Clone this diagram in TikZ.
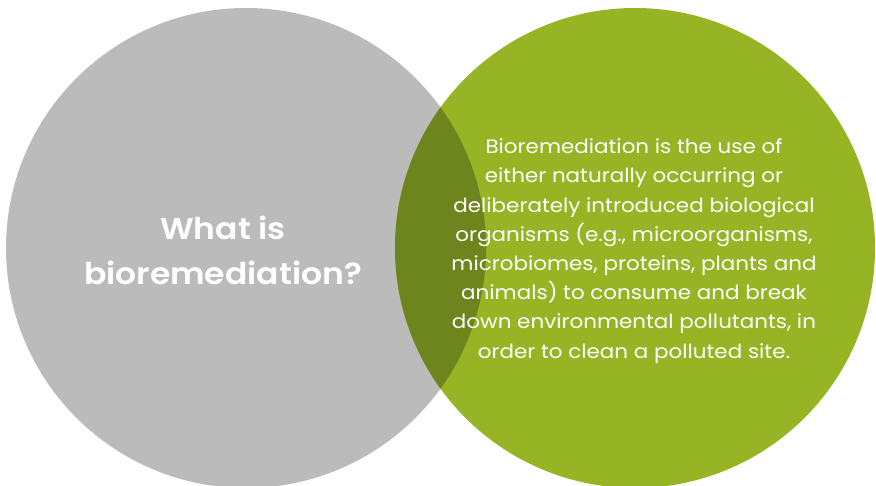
\documentclass[tikz,border=0pt]{standalone}
\usepackage{fontspec}
\setmainfont{Poppins}[FakeStretch=1.1, BoldFont={Poppins SemiBold}]
\usetikzlibrary{positioning}
\definecolor{LGray}{HTML}{BBBBBB}
\definecolor{LGreen}{HTML}{96B424}
\definecolor{DGreen}{HTML}{6E841D}
\tikzset{
    whitetext/.style={text=white, align=center, inner sep=0pt}
}

\begin{document}
\begin{tikzpicture}[x=1pt, y=-1pt]
\useasboundingbox (0,0) rectangle (876,486);
\coordinate (gray-center) at (246,248);
\coordinate (green-center) at (635,248);

\begin{scope}
\clip (0,0) rectangle (876,486);
\fill[LGray] (gray-center) circle (240);
\fill[LGreen] (green-center) circle (240);
\begin{scope}
    \clip (gray-center) circle (240);
    \fill[DGreen] (green-center) circle (240);
\end{scope}
\end{scope}

\node[whitetext, font=\bfseries\fontsize{30}{45}\selectfont] (question) at (223,250) {What is\\ bioremediation?};
\node[whitetext, font=\fontsize{19.5}{29.2}\selectfont] (answer) at (634,251)
    {Bioremediation is the use of\\ either naturally occurring or\\ deliberately introduced biological\\ organisms (e.g., microorganisms,\\ microbiomes, proteins, plants and\\ animals) to consume and break\\ down environmental pollutants, in\\ order to clean a polluted site.};
\end{tikzpicture}
\end{document}
